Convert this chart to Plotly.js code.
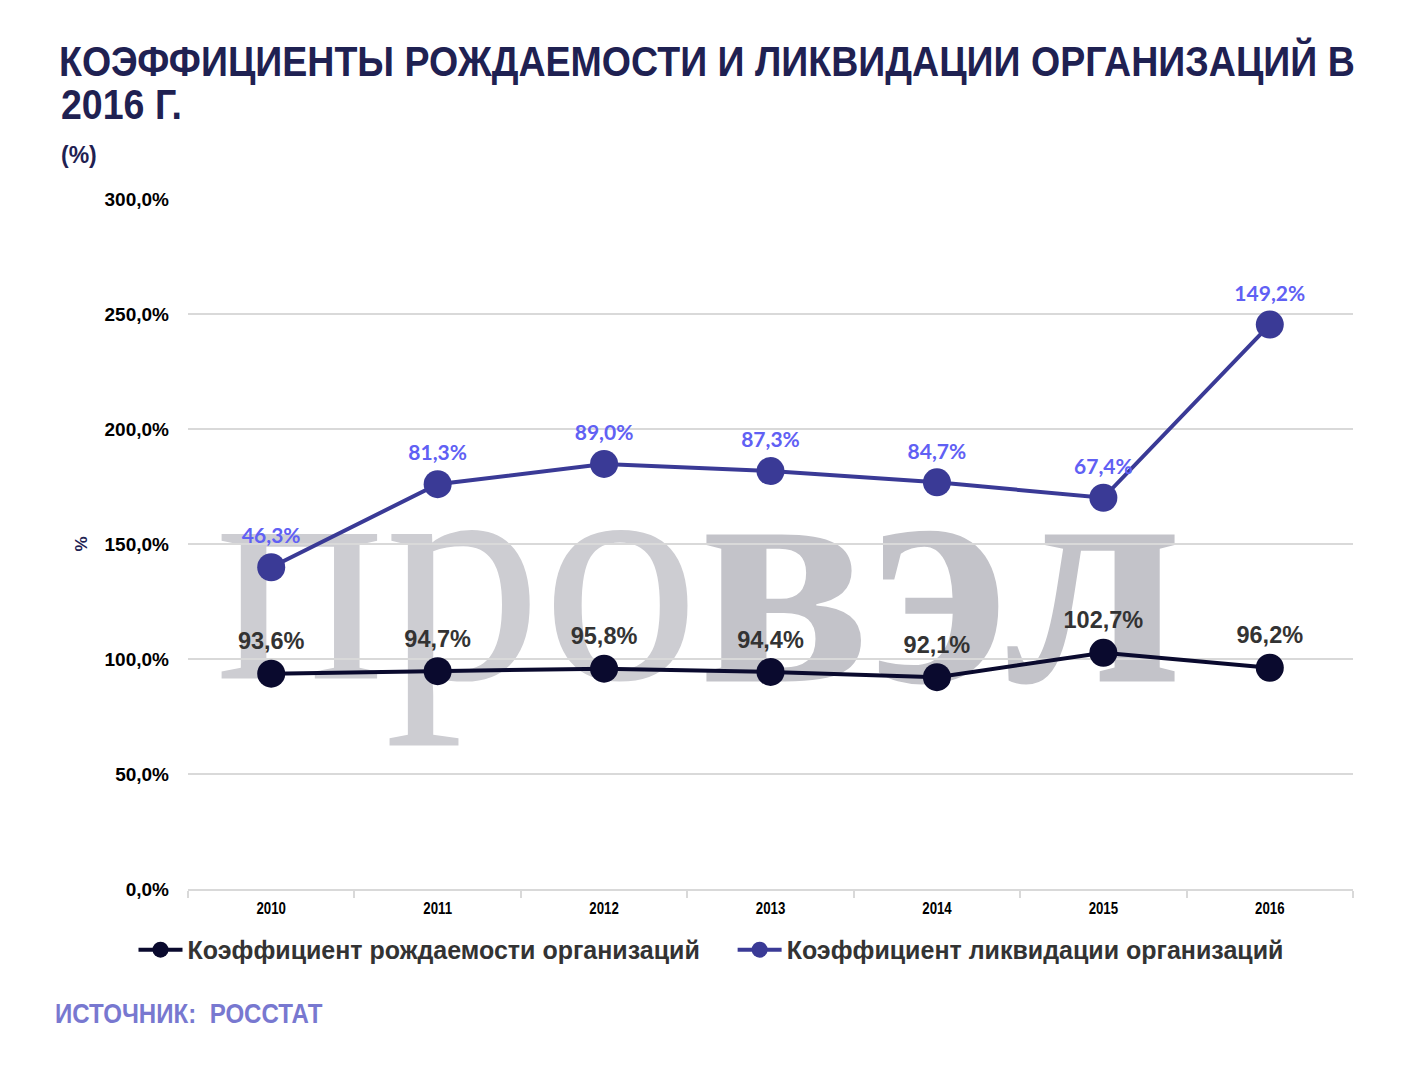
<!DOCTYPE html>
<html>
<head>
<meta charset="utf-8">
<script src="https://cdn.plot.ly/plotly-3.0.1.min.js"></script>
<style>
  html, body { margin: 0; padding: 0; background: #fff; }
  #chart { width: 1417px; height: 1069px; }
</style>
</head>
<body>
<div id="chart"></div>
<script>
// Годы и значения (в процентах)
var years = ['2010', '2011', '2012', '2013', '2014', '2015', '2016'];
var birthRate = [93.6, 94.7, 95.8, 94.4, 92.1, 102.7, 96.2];
var liquidationRate = [46.3, 81.3, 89.0, 87.3, 84.7, 67.4, 149.2];
var yTicks = [0, 50, 100, 150, 200, 250, 300];

var arial = '"Liberation Sans", Arial, sans-serif';
var serif = '"Liberation Serif", "Times New Roman", serif';
var NBSP = '\u00a0';

// Формат "93,6%"
function fmt(v) {
    return v.toFixed(1).replace('.', ',') + '%';
}

var traceBirth = {
    x: years,
    y: birthRate,
    name: 'Коэффициент рождаемости организаций' + NBSP + NBSP + NBSP + NBSP,
    type: 'scatter',
    mode: 'lines+markers+text',
    stackgroup: 'one',
    fill: 'none',
    line: { color: '#0a0a2e', width: 4 },
    marker: { color: '#0a0a2e', size: 28 },
    text: birthRate.map(fmt),
    texttemplate: '%{text}',
    textposition: 'top center',
    textfont: { family: arial, size: 23.5, color: '#333333', weight: 'bold' },
    hoverinfo: 'skip'
};

// Вторая линия накоплена поверх первой (как в исходном графике)
var traceLiq = {
    x: years,
    y: liquidationRate,
    name: 'Коэффициент ликвидации организаций',
    type: 'scatter',
    mode: 'lines+markers+text',
    stackgroup: 'one',
    fill: 'none',
    line: { color: '#3a3a96', width: 4 },
    marker: { color: '#3a3a96', size: 28 },
    text: liquidationRate.map(fmt),
    texttemplate: '%{text}',
    textposition: 'top center',
    textfont: { family: 'Lato, "Open Sans", sans-serif', size: 21, color: '#6060f4', weight: 'bold' },
    hoverinfo: 'skip'
};

var layout = {
    width: 1417,
    height: 1069,
    paper_bgcolor: '#ffffff',
    plot_bgcolor: '#ffffff',
    margin: { l: 188, r: 64, t: 199, b: 180 },
    showlegend: true,
    title: {
        text: 'КОЭФФИЦИЕНТЫ РОЖДАЕМОСТИ И ЛИКВИДАЦИИ ОРГАНИЗАЦИЙ В',
        x: 59 / 1417,
        xanchor: 'left',
        xref: 'container',
        y: 1 - 61 / 1069,
        yanchor: 'middle',
        yref: 'container',
        font: { family: arial, size: 42, color: '#1f2152', weight: 'bold' }
    },
    xaxis: {
        type: 'category',
        range: [-0.5, 6.5],
        showgrid: false,
        showline: true,
        linecolor: '#d9d9d9',
        linewidth: 2,
        ticks: 'outside',
        tickson: 'boundaries',
        ticklen: 7,
        tickwidth: 2,
        tickcolor: '#d9d9d9',
        ticklabelstandoff: 3,
        tickfont: { family: arial, size: 17, color: '#000000', weight: 'bold' },
        fixedrange: true
    },
    yaxis: {
        range: [0, 300],
        tickvals: yTicks,
        ticktext: yTicks.map(fmt),
        showgrid: true,
        gridcolor: '#d9d9d9',
        gridwidth: 2,
        zeroline: false,
        showline: false,
        ticks: '',
        ticklabelstandoff: 18,
        tickfont: { family: arial, size: 19, color: '#000000', weight: 'bold' },
        title: {
            text: '%',
            standoff: 12,
            font: { family: arial, size: 17, color: '#1f2152', weight: 'bold' }
        },
        automargin: false,
        fixedrange: true
    },
    legend: {
        orientation: 'h',
        x: (711 - 188) / 1165,
        xanchor: 'center',
        y: -0.055,
        yanchor: 'top',
        font: { family: arial, size: 25, color: '#333333', weight: 'bold' },
        itemwidth: 44,
        traceorder: 'normal'
    },
    // водяной знак «провэл» под сеткой
    shapes: [
        {
            type: 'rect', xref: 'paper', yref: 'paper', layer: 'below',
            x0: 0.032, x1: 0.431, y0: 0.356, y1: 0.66,
            line: { width: 0 }, fillcolor: 'rgba(0,0,0,0)',
            label: {
                text: 'про',
                textposition: 'middle center',
                font: { family: serif, size: 315, color: '#cdcdd2' }
            }
        },
        {
            type: 'rect', xref: 'paper', yref: 'paper', layer: 'below',
            x0: 0.44, x1: 0.852, y0: 0.356, y1: 0.66,
            line: { width: 0 }, fillcolor: 'rgba(0,0,0,0)',
            label: {
                text: '<b>вэл</b>',
                textposition: 'middle center',
                font: { family: serif, size: 320, color: '#c3c3c9', weight: 'bold' }
            }
        }
    ],
    annotations: [
        {
            text: '2016 Г.',
            xref: 'paper', yref: 'paper',
            x: -129 / 1165, xanchor: 'left',
            y: 1 + (199 - 104) / 690, yanchor: 'middle',
            showarrow: false,
            font: { family: arial, size: 42, color: '#1f2152', weight: 'bold' }
        },
        {
            text: '(%)',
            xref: 'paper', yref: 'paper',
            x: -129 / 1165, xanchor: 'left',
            y: 1 + (199 - 155) / 690, yanchor: 'middle',
            showarrow: false,
            font: { family: arial, size: 23, color: '#1f2152', weight: 'bold' }
        },
        {
            text: 'ИСТОЧНИК:' + NBSP + ' РОССТАТ',
            xref: 'paper', yref: 'paper',
            x: -135 / 1165, xanchor: 'left',
            y: -(1013 - 889) / 690, yanchor: 'middle',
            showarrow: false,
            font: { family: arial, size: 28, color: '#7878d0', weight: 'bold' }
        }
    ]
};

// Сжимаем текст по горизонтали (в оригинале узкий шрифт)
function squeeze(el, f, centered) {
    var b = el.getBBox();
    var ax = centered ? b.x + b.width / 2 : b.x;
    var t = el.getAttribute('transform') || '';
    el.setAttribute('transform', t + ' translate(' + ax + ',0) scale(' + f + ',1) translate(' + (-ax) + ',0)');
}

Plotly.newPlot('chart', [traceBirth, traceLiq], layout, { displayModeBar: false, staticPlot: true }).then(function (gd) {
    var title = gd.querySelector('.gtitle');
    var f = 1296 / title.getBBox().width;
    squeeze(title, f, false);

    var ann = gd.querySelectorAll('.annotation-text');
    squeeze(ann[0], f, false);
    squeeze(ann[2], 0.86, false);

    gd.querySelectorAll('.xtick text').forEach(function (el) {
        squeeze(el, 0.78, true);
    });
});
</script>
</body>
</html>
